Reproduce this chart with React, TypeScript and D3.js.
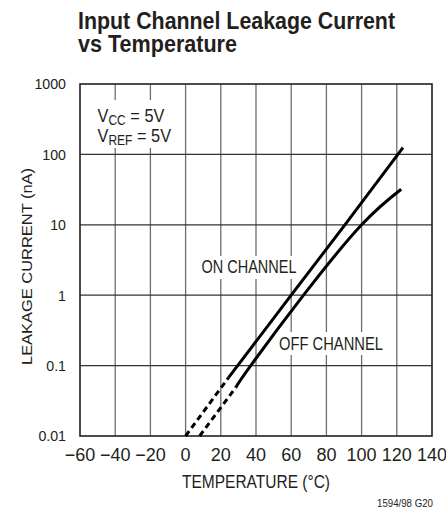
import React from "react";
import * as d3 from "d3";

const W = 446;
const H = 519;

const xTicks = [-60, -40, -20, 0, 20, 40, 60, 80, 100, 120, 140];
const xTickLabels = ["\u221260", "\u221240", "\u221220", "0", "20", "40", "60", "80", "100", "120", "140"];
const yTicks = [0.01, 0.1, 1, 10, 100, 1000];
const yTickLabels = ["0.01", "0.1", "1", "10", "100", "1000"];

// ON channel
const onDashT = [0, 24.5];
const onDashV = [0.01, 0.068];
const onSolidT = [24.5, 60, 90.5, 123.5];
const onSolidV = [0.068, 1, 10, 125];

// OFF channel
const offDashT = [8, 28.5];
const offDashV = [0.01, 0.049];
const offSolidT = [28.5, 37, 67, 100, 122.5];
const offSolidV = [0.049, 0.1, 1, 10, 32];

const FONT = "'Liberation Sans', Arial, sans-serif";
const INK = "#231f20";

export default function App() {
  const left = 80, right = 432, top = 84, bottom = 436;
  const x = d3.scaleLinear().domain([-60, 140]).range([left, right]);
  const y = d3.scaleLog().domain([0.01, 1000]).range([bottom, top]);

  const line = d3
    .line<[number, number]>()
    .x((d) => x(d[0]))
    .y((d) => y(d[1]))
    .curve(d3.curveNatural);

  const zip = (a: number[], b: number[]) => a.map((t, i) => [t, b[i]] as [number, number]);

  return (
    <svg width={W} height={H} style={{ position: "absolute", left: 0, top: 0, background: "#fff" }}>
      <rect x={0} y={0} width={W} height={H} fill="#fff" />
      {/* Title */}
      <text x={78} y={28.5} fontFamily={FONT} fontWeight="bold" fontSize={23} fill={INK} textLength={317} lengthAdjust="spacingAndGlyphs">
        Input Channel Leakage Current
      </text>
      <text x={78} y={52} fontFamily={FONT} fontWeight="bold" fontSize={23} fill={INK} textLength={159} lengthAdjust="spacingAndGlyphs">
        vs Temperature
      </text>

      {/* vertical grid */}
      {xTicks.slice(1, -1).map((t) => (
        <line key={"vx" + t} x1={x(t)} x2={x(t)} y1={top} y2={bottom} stroke="#6e6e6e" strokeWidth={1.3} />
      ))}
      {/* horizontal grid */}
      {yTicks.slice(1, -1).map((v) => (
        <line key={"hy" + v} x1={left} x2={right} y1={y(v)} y2={y(v)} stroke="#333" strokeWidth={1.2} />
      ))}
      {/* frame */}
      <rect x={left} y={top} width={right - left} height={bottom - top} fill="none" stroke={INK} strokeWidth={1.6} />

      {/* y tick labels */}
      {yTicks.map((v, i) => (
        <text key={"yl" + v} x={66} y={y(v) + 5.3} textAnchor="end" fontFamily={FONT} fontSize={14.2} fill={INK}>
          {yTickLabels[i]}
        </text>
      ))}
      {/* x tick labels */}
      {xTicks.map((t, i) => (
        <text key={"xl" + t} x={x(t)} y={461} textAnchor="middle" fontFamily={FONT} fontSize={18} fill={INK}>
          {xTickLabels[i]}
        </text>
      ))}

      {/* axis titles */}
      <text x={182} y={488} fontFamily={FONT} fontSize={18} fill={INK} textLength={148} lengthAdjust="spacingAndGlyphs">
        TEMPERATURE (°C)
      </text>
      <text transform={`translate(32,${365}) rotate(-90)`} fontFamily={FONT} fontSize={14.5} fill={INK} textLength={197} lengthAdjust="spacingAndGlyphs">
        LEAKAGE CURRENT (nA)
      </text>

      {/* annotation boxes */}
      <rect x={93} y={100} width={82} height={48} fill="#fff" />
      <g transform="translate(97.5,0) scale(0.86,1)">
        <text x={0} y={121.7} fontFamily={FONT} fontSize={19} fill={INK}>
          V<tspan fontSize={14} dy={3.5}>CC</tspan>
          <tspan dy={-3.5}> = 5V</tspan>
        </text>
        <text x={0} y={141.7} fontFamily={FONT} fontSize={19} fill={INK}>
          V<tspan fontSize={14} dy={3.5}>REF</tspan>
          <tspan dy={-3.5}> = 5V</tspan>
        </text>
      </g>

      <rect x={198} y={256} width={102} height={23} fill="#fff" />
      <text x={201.5} y={273.3} fontFamily={FONT} fontSize={18} fill={INK} textLength={95} lengthAdjust="spacingAndGlyphs">
        ON CHANNEL
      </text>
      <rect x={276} y={332} width={111} height={23} fill="#fff" />
      <text x={279} y={350} fontFamily={FONT} fontSize={18} fill={INK} textLength={104} lengthAdjust="spacingAndGlyphs">
        OFF CHANNEL
      </text>

      {/* data lines */}
      <path d={line(zip(onDashT, onDashV)) || ""} fill="none" stroke="#000" strokeWidth={3} strokeDasharray="6,4" />
      <path d={line(zip(onSolidT, onSolidV)) || ""} fill="none" stroke="#000" strokeWidth={3} />
      <path d={line(zip(offDashT, offDashV)) || ""} fill="none" stroke="#000" strokeWidth={3} strokeDasharray="6,4" />
      <path d={line(zip(offSolidT, offSolidV)) || ""} fill="none" stroke="#000" strokeWidth={3} />

      {/* footer */}
      <text x={377} y={507} fontFamily={FONT} fontSize={11.5} fill={INK} textLength={56} lengthAdjust="spacingAndGlyphs">
        1594/98 G20
      </text>
    </svg>
  );
}
